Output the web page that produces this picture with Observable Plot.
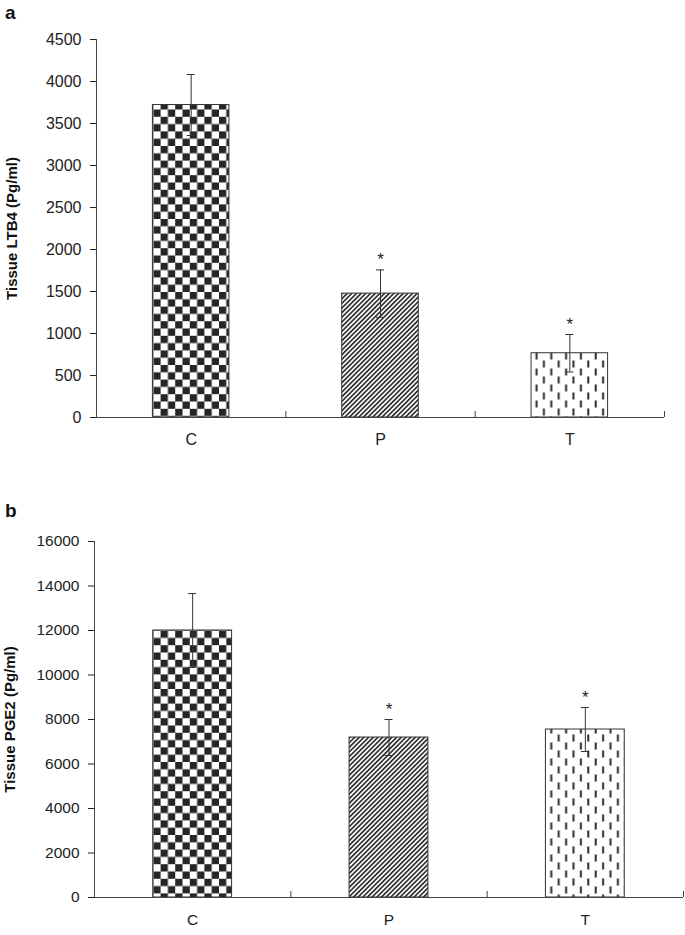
<!DOCTYPE html>
<html><head><meta charset="utf-8">
<script src="https://cdn.jsdelivr.net/npm/d3@7"></script>
<script src="https://cdn.jsdelivr.net/npm/@observablehq/plot@0.6"></script>
<style>
body{margin:0;background:#fff;font-family:"Liberation Sans",Arial,sans-serif;}
#wrap{position:relative;width:685px;height:935px;overflow:hidden;}
.panel{position:absolute;left:0;z-index:1;}
.lab{position:absolute;z-index:2;font-weight:bold;font-size:19px;line-height:19px;color:#111;}
</style></head><body>
<svg width="0" height="0" style="position:absolute">
<defs>
<pattern id="chk" patternUnits="userSpaceOnUse" width="14.6" height="14.6">
<rect width="14.6" height="14.6" fill="#fff"/>
<rect width="7.3" height="7.3" fill="#262626"/>
<rect x="7.3" y="7.3" width="7.3" height="7.3" fill="#262626"/>
</pattern>
<pattern id="diag" patternUnits="userSpaceOnUse" width="3.3" height="10" patternTransform="rotate(45)">
<rect width="3.3" height="10" fill="#fff"/><rect width="1.7" height="10" fill="#333"/>
</pattern>
<pattern id="dash" patternUnits="userSpaceOnUse" width="14.8" height="16">
<rect width="14.8" height="16" fill="#fff"/>
<rect x="2.7" y="0.5" width="2" height="7" fill="#2a2a2a"/>
<rect x="10.1" y="8.5" width="2" height="7" fill="#2a2a2a"/>
</pattern>
</defs></svg>
<div id="wrap">
<div id="pa" class="panel" style="top:0"></div>
<div id="pb" class="panel" style="top:470px"></div>
<div class="lab" style="left:5px;top:3px">a</div>
<div class="lab" style="left:5px;top:501px">b</div>
</div>
<script>
const categories = ["C", "P", "T"];
const significance = ["", "*", "*"];
const ltb4Mean = [3720, 1475, 765];
const ltb4Err = [363, 282, 223];
const pge2Mean = [12000, 7190, 7550];
const pge2Err = [1660, 810, 990];
const ltb4Ticks = [0, 500, 1000, 1500, 2000, 2500, 3000, 3500, 4000, 4500];
const pge2Ticks = [0, 2000, 4000, 6000, 8000, 10000, 12000, 14000, 16000];
const patternFills = ["url(#chk)", "url(#diag)", "url(#dash)"];

function panel({mean, err, ticks, label, height, marginTop, marginBottom, marginLeft, marginRight, inset, fs}) {
  const data = categories.map((c, i) => ({cat: c, i, mean: mean[i], lo: mean[i] - err[i], hi: mean[i] + err[i], sig: significance[i]}));
  const ink = "#333";
  return Plot.plot({
    width: 685, height, marginTop, marginBottom, marginLeft, marginRight,
    style: {fontFamily: '"Liberation Sans", Arial, sans-serif', fontSize: fs + "px", color: "#222", background: "#fff"},
    x: {domain: [0, 3], axis: null},
    y: {domain: [0, ticks[ticks.length - 1]], ticks, tickSize: 6, tickPadding: 9, tickFormat: d => String(d), label: null},
    color: {type: "ordinal", domain: categories, range: patternFills},
    marks: [
      Plot.rectY(data, {x1: d => d.i, x2: d => d.i + 1, y1: 0, y2: "mean", fill: "cat", stroke: ink, strokeWidth: 1, insetLeft: inset, insetRight: inset}),
      Plot.ruleX(data, {x: d => d.i + 0.5, y1: "lo", y2: "hi", stroke: ink}),
      Plot.ruleY(data, {y: "hi", x1: d => d.i + 0.5, x2: d => d.i + 0.5, insetLeft: -4, insetRight: -4, stroke: ink}),
      Plot.ruleY(data, {y: "lo", x1: d => d.i + 0.5, x2: d => d.i + 0.5, insetLeft: -4, insetRight: -4, stroke: ink}),
      Plot.ruleY([0], {stroke: "#444"}),
      Plot.ruleX([0], {stroke: "#444"}),
      Plot.ruleX([1, 2, 3], {x: d => d, y1: 0, y2: 0, insetBottom: 6, stroke: "#444"}),
      Plot.text(data, {x: d => d.i + 0.5, y: 0, text: "cat", dy: 16, lineAnchor: "top", fontSize: fs, fill: "#222"}),
      Plot.text(data, {x: d => d.i + 0.5, y: "hi", text: "sig", dy: -10, fontSize: 17, fill: "#222"}),
      Plot.text([label], {frameAnchor: "left", dx: -84, rotate: -90, textAnchor: "middle", text: d => d, fontWeight: "bold", fontSize: 15, fill: "#111"})
    ]
  });
}

document.getElementById("pa").append(panel({
  mean: ltb4Mean, err: ltb4Err, ticks: ltb4Ticks, label: "Tissue LTB4 (Pg/ml)",
  height: 470, marginTop: 39, marginBottom: 53, marginLeft: 96, marginRight: 21, inset: 56.4, fs: 16
}));
document.getElementById("pb").append(panel({
  mean: pge2Mean, err: pge2Err, ticks: pge2Ticks, label: "Tissue PGE2 (Pg/ml)",
  height: 465, marginTop: 71, marginBottom: 38, marginLeft: 94, marginRight: 2, inset: 58.75, fs: 15.5
}));
</script>
</body></html>
